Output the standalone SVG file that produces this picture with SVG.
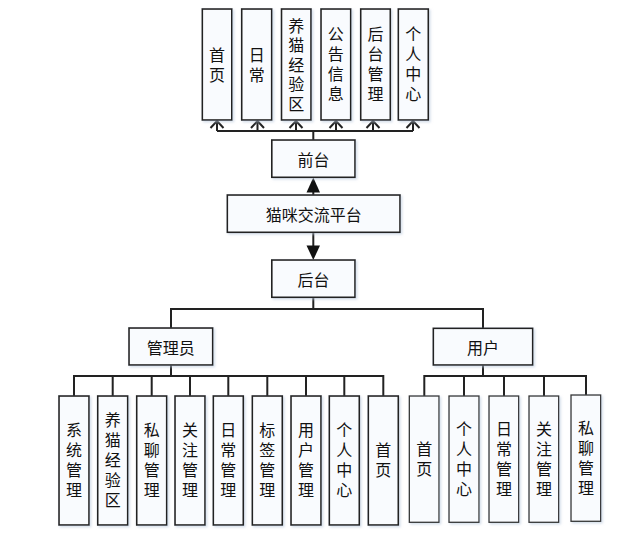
<svg xmlns="http://www.w3.org/2000/svg" width="644" height="536" viewBox="0 0 644 536">
<defs>
<style>
.box{fill:#f9fbfe;stroke:#222;stroke-width:1.6;filter:url(#sh)}
.ubox{fill:#f9fbfe;stroke:#333;stroke-width:1.3;filter:url(#sh)}
.t{font-family:"Noto Sans CJK SC","Microsoft YaHei",sans-serif;font-size:16px;fill:#111;text-anchor:middle;dominant-baseline:central}
.v{font-family:"Noto Sans CJK SC","Microsoft YaHei",sans-serif;font-size:16px;fill:#111;text-anchor:middle;writing-mode:vertical-rl;letter-spacing:4px}
.vt{letter-spacing:3.5px}
.c{fill:none;stroke:#222;stroke-width:2}
</style>
<filter id="sh" x="-20%" y="-20%" width="150%" height="150%">
<feDropShadow dx="1.5" dy="1.5" stdDeviation="1.2" flood-color="#b8c8dc" flood-opacity="0.6"/>
</filter>
</defs>

<g id="connectors">
<path class="c" d="M217,131 H413"/>
<path class="c" d="M313.3,140 V131"/>
<path class="c" d="M217,131 V121 M257.5,131 V121 M296,131 V121 M336,131 V121 M373,131 V121 M413,131 V121"/>
<path d="M210.5,128 L217,121 L223.5,128 M251,128 L257.5,121 L264,128 M289.5,128 L296,121 L302.5,128 M329.5,128 L336,121 L342.5,128 M366.5,128 L373,121 L379.5,128 M406.5,128 L413,121 L419.5,128" fill="none" stroke="#222" stroke-width="2"/>
<path class="c" d="M313.3,195 V190"/>
<polygon points="313.3,177.5 306.5,192.5 320,192.5" fill="#111"/>
<path class="c" d="M313.3,232.5 V247"/>
<polygon points="313.3,260 306.5,245.5 320,245.5" fill="#111"/>
<path class="c" d="M313.3,297 V309 M171,328 V309 H483 V328"/>
<path class="c" d="M171,365 V376 M74,396 V376 H383.3 V396 M112.7,376 V396 M151.7,376 V396 M190,376 V396 M228.3,376 V396 M267.3,376 V396 M306,376 V396 M344.3,376 V396"/>
<path class="c" d="M483,365 V376 M424.3,396 V376 H586 V395 M464,376 V396 M504,376 V396 M544,376 V396"/>
</g>

<g id="top-首页"><rect class="box" x="202.3" y="9" width="29.5" height="111"/><text class="v vt" x="217" y="66.5">首页</text></g>
<g id="top-日常"><rect class="box" x="241.7" y="9" width="30" height="111"/><text class="v vt" x="256.7" y="66.5">日常</text></g>
<g id="top-养猫经验区"><rect class="box" x="281.5" y="9" width="29.5" height="111"/><text class="v vt" x="296.3" y="66.5">养猫经验区</text></g>
<g id="top-公告信息"><rect class="box" x="321" y="9" width="29.7" height="111"/><text class="v" x="335.8" y="66">公告信息</text></g>
<g id="top-后台管理"><rect class="box" x="360.7" y="9" width="29.6" height="111"/><text class="v" x="375.5" y="66">后台管理</text></g>
<g id="top-个人中心"><rect class="box" x="398.3" y="9" width="30" height="111"/><text class="v" x="413.3" y="66">个人中心</text></g>

<g id="前台"><rect class="box" x="271.8" y="140" width="83.2" height="37.3"/><text class="t" x="313.4" y="158.7">前台</text></g>
<g id="猫咪交流平台"><rect class="box" x="227.3" y="195" width="172.7" height="37.3"/><text class="t" x="313.7" y="213.7">猫咪交流平台</text></g>
<g id="后台"><rect class="box" x="271.8" y="260" width="83.2" height="37.3"/><text class="t" x="313.4" y="278.7">后台</text></g>
<g id="管理员"><rect class="box" x="129" y="328" width="83.7" height="37"/><text class="t" x="170.8" y="346.5">管理员</text></g>
<g id="用户"><rect class="box" x="433.3" y="328.3" width="99.4" height="36.7"/><text class="t" x="483" y="346.6">用户</text></g>

<g id="a-系统管理"><rect class="box" x="59" y="396" width="30" height="129"/><text class="v" x="74" y="462">系统管理</text></g>
<g id="a-养猫经验区"><rect class="box" x="97.7" y="396" width="30" height="129"/><text class="v" x="112.7" y="462">养猫经验区</text></g>
<g id="a-私聊管理"><rect class="box" x="136.7" y="396" width="30" height="129"/><text class="v" x="151.7" y="462">私聊管理</text></g>
<g id="a-关注管理"><rect class="box" x="175" y="396" width="30" height="129"/><text class="v" x="190" y="462">关注管理</text></g>
<g id="a-日常管理"><rect class="box" x="213.3" y="396" width="30" height="129"/><text class="v" x="228.3" y="462">日常管理</text></g>
<g id="a-标签管理"><rect class="box" x="252.3" y="396" width="30" height="129"/><text class="v" x="267.3" y="462">标签管理</text></g>
<g id="a-用户管理"><rect class="box" x="291" y="396" width="30" height="129"/><text class="v" x="306" y="462">用户管理</text></g>
<g id="a-个人中心"><rect class="box" x="329.3" y="396" width="30" height="129"/><text class="v" x="344.3" y="462">个人中心</text></g>
<g id="a-首页"><rect class="box" x="368.3" y="396" width="30" height="129"/><text class="v" x="383.3" y="462">首页</text></g>

<g id="u-首页"><rect class="ubox" x="409.3" y="396" width="29.7" height="126.3"/><text class="v" x="424.2" y="460.5">首页</text></g>
<g id="u-个人中心"><rect class="ubox" x="449" y="396" width="30" height="126.3"/><text class="v" x="464" y="461">个人中心</text></g>
<g id="u-日常管理"><rect class="ubox" x="489" y="396" width="29.7" height="126.3"/><text class="v" x="503.9" y="461">日常管理</text></g>
<g id="u-关注管理"><rect class="ubox" x="529" y="396" width="29.7" height="126.3"/><text class="v" x="543.9" y="461">关注管理</text></g>
<g id="u-私聊管理"><rect class="ubox" x="571" y="395" width="29.7" height="126.3"/><text class="v" x="585.9" y="460">私聊管理</text></g>
</svg>
